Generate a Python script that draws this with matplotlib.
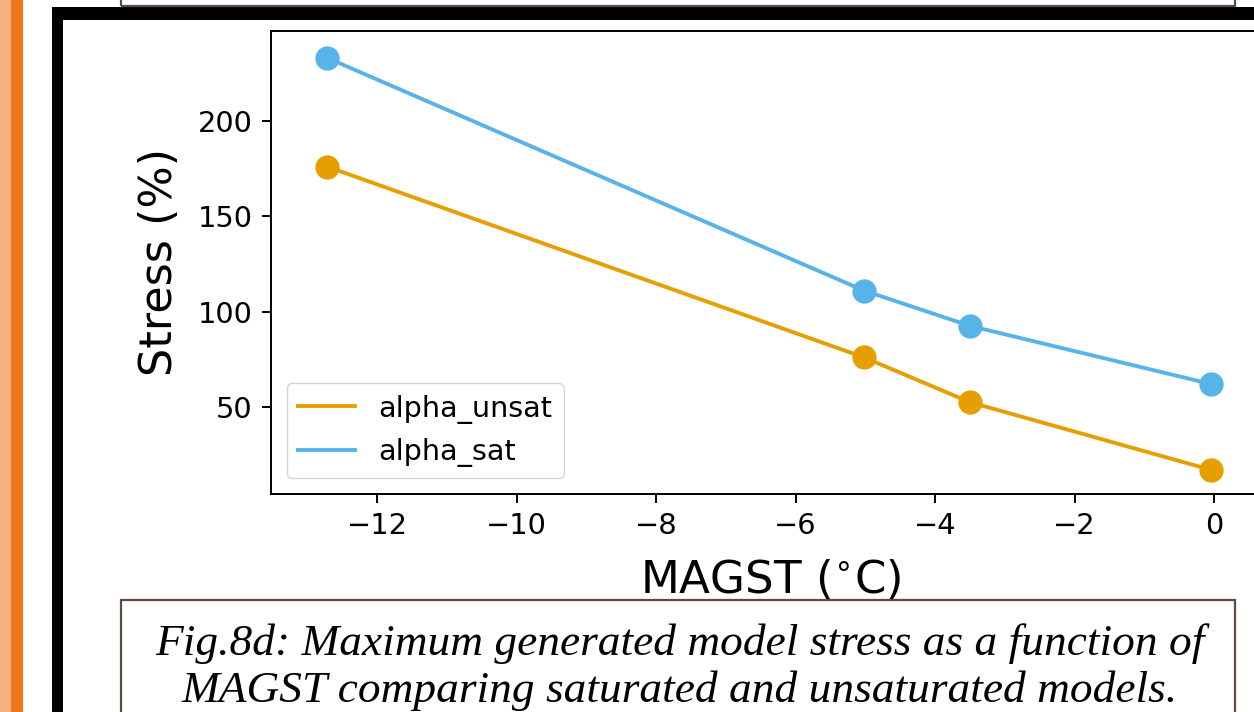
import matplotlib
matplotlib.use("Agg")
import matplotlib.pyplot as plt
from matplotlib.patches import Rectangle

# ---- data ----
magst = [-12.72, -5.02, -3.50, -0.04]
alpha_unsat = [176, 76, 52.5, 17]
alpha_sat = [233, 111, 92.5, 62]
series_labels = ["alpha_unsat", "alpha_sat"]
series_colors = ["#E69F00", "#56B4E9"]
x_ticks = [-12, -10, -8, -6, -4, -2, 0]
y_ticks = [50, 100, 150, 200]
caption_lines = ["Fig.8d: Maximum generated model stress as a function of",
                 "MAGST comparing saturated and unsaturated models."]

W, H = 1254, 712
fig = plt.figure(figsize=(W / 100, H / 100), dpi=100)
fig.patch.set_facecolor("white")


def fx(x):
    return x / W


def fy(y):
    return 1 - y / H


def rect(x0, y0, x1, y1, **kw):
    fig.add_artist(Rectangle((fx(x0), fy(y1)), fx(x1) - fx(x0), fy(y0) - fy(y1),
                             transform=fig.transFigure, **kw))


# poster decorations
rect(0, 0, 11, H, facecolor="#F5B07D", edgecolor="none")
rect(11, 0, 22.5, H, facecolor="#F07818", edgecolor="none")
rect(52, 6.5, 62.5, H + 5, facecolor="black", edgecolor="none")
rect(52, 6.5, W + 5, 20, facecolor="black", edgecolor="none")
rect(120.5, -20, 1235, 5.5, facecolor="none", edgecolor="#5E4B3F", linewidth=1.6)
rect(120.5, 599.5, 1235, H + 20, facecolor="white", edgecolor="#5E4B3F", linewidth=1.6)

# ---- axes ----
x_right = 0.8
right_px = 1214 + x_right * 69.75
ax = fig.add_axes([fx(271), fy(494), fx(right_px) - fx(271), (494 - 31) / H])
for ys, lab, col in zip([alpha_unsat, alpha_sat], series_labels, series_colors):
    ax.plot(magst, ys, color=col, linewidth=2.8, label=lab, zorder=2)
    ax.scatter(magst, ys, color=col, s=17.5 ** 2, zorder=3, linewidths=0)

ax.set_xlim(-13.52, x_right)
ax.set_ylim(4.4, 247)
ax.set_xticks(x_ticks)
ax.set_yticks(y_ticks)
ax.tick_params(labelsize=20.8, length=6.6, width=1.4, pad=6.6, colors="black")
for sp in ax.spines.values():
    sp.set_linewidth(1.4)
ax.set_xlabel("MAGST ($^{\\circ}$C)", fontsize=32.5, labelpad=13)
ax.set_ylabel("Stress (%)", fontsize=32, labelpad=12)
leg = ax.legend(loc="lower left", fontsize=20.6, handlelength=2.0,
                borderaxespad=0.55, framealpha=0.8)

# caption
fig.text(fx(680), fy(655), caption_lines[0], ha="center", va="baseline",
         fontsize=32.7, style="italic", family="Liberation Serif")
fig.text(fx(680), fy(702), caption_lines[1], ha="center", va="baseline",
         fontsize=32.7, style="italic", family="Liberation Serif")

fig.savefig("out.png", dpi=100)
